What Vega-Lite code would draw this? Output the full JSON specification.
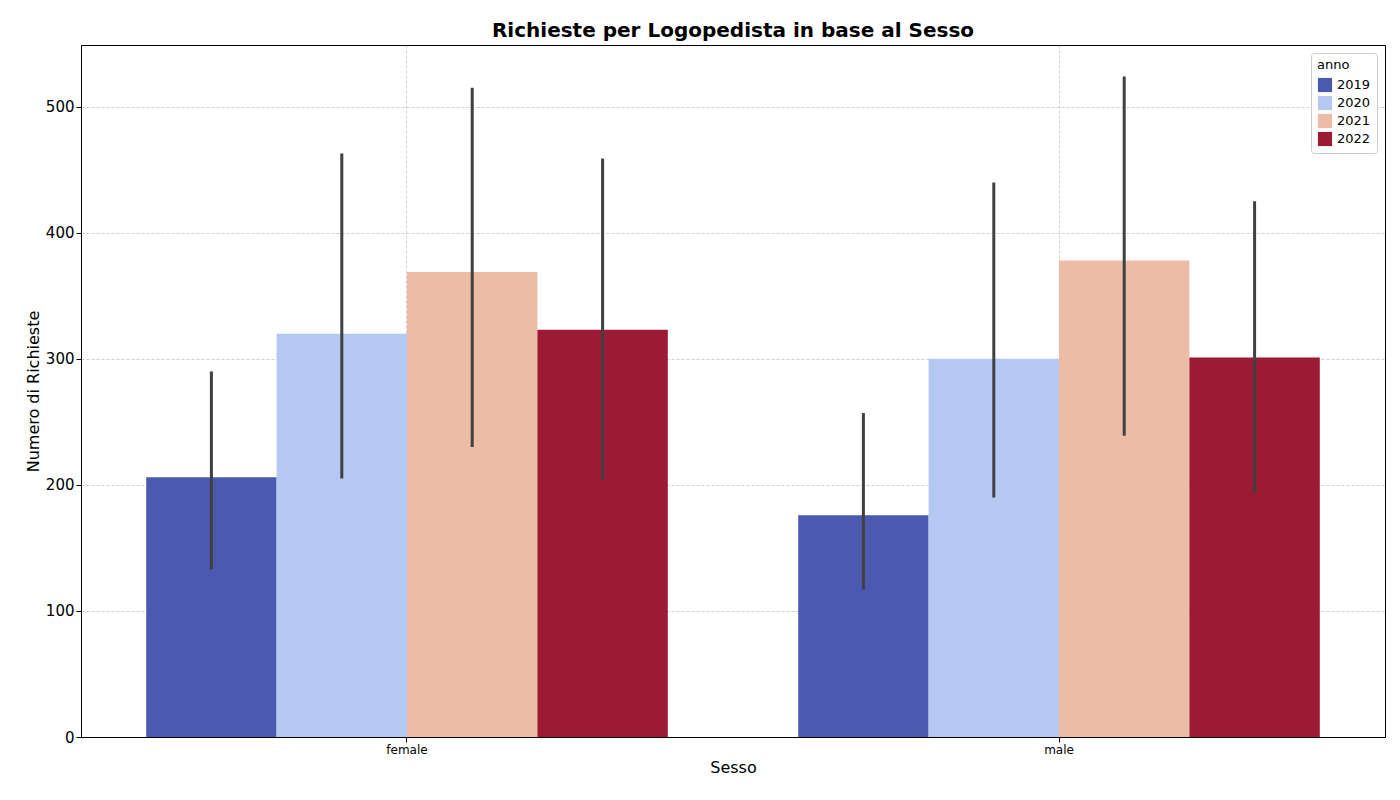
{
"$schema":"https://vega.github.io/schema/vega-lite/v6.json",
"width":1304,"height":692,
"autosize":{"type":"none"},
"padding":{"left":81,"top":45,"right":15,"bottom":63},
"background":"white",
"title":{"text":"Richieste per Logopedista in base al Sesso","fontSize":20,"fontWeight":"bold","font":"DejaVu Sans","color":"black","offset":4},
"data":{"values":[
{"sesso":"female","anno":"2019","val":206,"lo":133,"hi":290},
{"sesso":"female","anno":"2020","val":320,"lo":205,"hi":463},
{"sesso":"female","anno":"2021","val":369,"lo":230,"hi":515},
{"sesso":"female","anno":"2022","val":323,"lo":204,"hi":459},
{"sesso":"male","anno":"2019","val":176,"lo":117,"hi":257},
{"sesso":"male","anno":"2020","val":300,"lo":190,"hi":440},
{"sesso":"male","anno":"2021","val":378,"lo":239,"hi":524},
{"sesso":"male","anno":"2022","val":301,"lo":193,"hi":425}
]},
"encoding":{
"x":{"field":"sesso","type":"nominal","title":"Sesso","scale":{"paddingInner":0.2,"paddingOuter":0.1},
"axis":{"labelAngle":0,"bandPosition":0.5,"grid":true,"gridDash":[3,2],"gridColor":"#b0b0b0","gridWidth":0.6,"labelFontSize":12,"titleFontSize":16,"titleFontWeight":"normal","labelFont":"DejaVu Sans","titleFont":"DejaVu Sans","labelColor":"black","titleColor":"black","domainColor":"black","tickColor":"black"}},
"xOffset":{"field":"anno","type":"nominal"}
},
"layer":[
{"mark":{"type":"bar"},
"encoding":{
"y":{"field":"val","type":"quantitative","title":"Numero di Richieste","scale":{"domain":[0,549],"nice":false},
"axis":{"values":[0,100,200,300,400,500],"gridDash":[3,2],"gridColor":"#b0b0b0","gridWidth":0.6,"labelFontSize":15,"titleFontSize":16,"titleFontWeight":"normal","labelFont":"DejaVu Sans","titleFont":"DejaVu Sans","labelColor":"black","titleColor":"black","domainColor":"black","tickColor":"black"}},
"color":{"field":"anno","type":"nominal","scale":{"domain":["2019","2020","2021","2022"],"range":["#4c59b0","#b4c8f2","#ecbca6","#9d1a35"]},
"legend":{"title":"anno","orient":"top-right","offset":8,"symbolType":"square","symbolSize":200,"fillColor":"white","strokeColor":"#cccccc","padding":6,"cornerRadius":3,"labelFontSize":13,"titleFontSize":13,"titleFontWeight":"normal","labelFont":"DejaVu Sans","titleFont":"DejaVu Sans"}}
}},
{"mark":{"type":"rule","color":"#404040","strokeWidth":3},
"encoding":{"y":{"field":"lo","type":"quantitative"},"y2":{"field":"hi"}}}
],
"config":{"view":{"stroke":"black"}}
}
